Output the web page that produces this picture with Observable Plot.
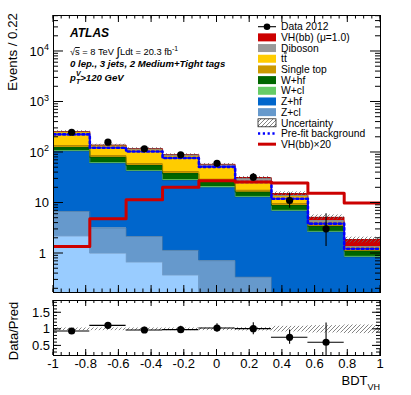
<!DOCTYPE html>
<html><head><meta charset="utf-8">
<script src="https://cdn.jsdelivr.net/npm/d3@7"></script>
<script src="https://cdn.jsdelivr.net/npm/@observablehq/plot@0.6"></script>
<style>
body{margin:0;background:#fff;}
#wrap{position:relative;width:411px;height:395px;font-family:"Liberation Sans",Arial,Helvetica,sans-serif;}
#wrap svg{position:absolute;left:0;overflow:visible;font-family:"Liberation Sans",Arial,Helvetica,sans-serif;}
</style></head><body><div id="wrap"></div>
<script>
// ---------------- data ----------------
const binLow    = [-1, -0.778, -0.556, -0.333, -0.111, 0.111, 0.333, 0.556, 0.778];
const binHigh   = [-0.778, -0.556, -0.333, -0.111, 0.111, 0.333, 0.556, 0.778, 1];
const binCenter = [-0.889, -0.667, -0.444, -0.222, 0, 0.222, 0.444, 0.667, 0.889];

// stacked backgrounds + signal (bottom to top)
const zl      = [2.2, 1.0, 0.67, 0.37, 0.12, 0.05, 0.02, 0.01, 0.005];
const zcl     = [4.6, 2.2, 1.5, 0.78, 0.6, 0.29, 0.1, 0.05, 0.02];
const zhf     = [99, 57.8, 40.5, 26.7, 19.3, 12.7, 6.8, 2.6, 0.82];
const wcl     = [3, 2, 1.5, 1.2, 0.8, 0.5, 0.3, 0.1, 0.04];
const whf     = [14, 17, 10.8, 8.7, 5.9, 2.9, 1.7, 0.68, 0.23];
const stop    = [14, 6, 5, 4, 3, 1.5, 0.8, 0.2, 0.05];
const ttbar   = [115, 49, 52, 42, 21.3, 9, 3.7, 0.5, 0.12];
const diboson = [8, 5, 7, 6, 6, 3.5, 0.6, 0.3, 0.08];
const vhbb    = [0.07, 0.24, 0.58, 1.03, 1.35, 1.35, 1.24, 0.78, 0.5];

const prefit  = [228, 124, 105, 78, 52, 26, 12.1, 3.9, 1.24];
const vhx20   = [1.38, 4.87, 11.6, 20.6, 27.5, 26, 25, 15.6, 10];

const uncLo   = [0.96, 0.96, 0.96, 0.96, 0.96, 0.95, 0.92, 0.89, 0.87];
const uncHi   = [1.04, 1.04, 1.04, 1.04, 1.04, 1.05, 1.09, 1.11, 1.13];

const dataX   = [-0.889, -0.667, -0.444, -0.222, 0, 0.222, 0.444, 0.667];
const dataY   = [252, 160, 118, 90, 61, 32.5, 11.2, 3.08];
const dataLo  = [237, 148, 107, 81, 53.5, 27, 7.9, 1.38];
const dataHi  = [268, 173, 129, 100, 69, 38.5, 15.7, 6.1];

const ratioY  = [0.95, 1.12, 0.98, 0.99, 1.04, 1.02, 0.76, 0.61];
const ratioLo = [0.89, 1.05, 0.9, 0.89, 0.91, 0.84, 0.55, 0.2];
const ratioHi = [1.01, 1.19, 1.06, 1.09, 1.17, 1.2, 0.98, 1.19];

const layerNames  = ["Z+l", "Z+cl", "Z+hf", "W+cl", "W+hf", "Single top", "tt\u0304", "Diboson", "VH(bb) (\u03bc=1.0)"];
const layerColors = ["#99ccff", "#6699cc", "#0066cc", "#66cc66", "#006600", "#cc9900", "#ffcc00", "#999999", "#cc0000"];
const layerValues = [zl, zcl, zhf, wcl, whf, stop, ttbar, diboson, vhbb];

const legendLabels = ["Data 2012", "VH(bb) (\u03bc=1.0)", "Diboson", "tt\u0304", "Single top", "W+hf", "W+cl", "Z+hf", "Z+cl", "Uncertainty", "Pre-fit background", "VH(bb)\u00d720"];
const legendKinds  = ["data", "#cc0000", "#999999", "#ffcc00", "#cc9900", "#006600", "#66cc66", "#0066cc", "#6699cc", "hatch", "dotted", "line"];

const xTickVals   = [-1, -0.8, -0.6, -0.4, -0.2, 0, 0.2, 0.4, 0.6, 0.8, 1];
const xTickLabels = ["-1", "-0.8", "-0.6", "-0.4", "-0.2", "0", "0.2", "0.4", "0.6", "0.8", "1"];
const yTickVals   = [1, 10, 100, 1000, 10000];
const yTickBase   = ["1", "10", "10", "10", "10"];
const yTickExp    = ["", "", "2", "3", "4"];
const rTickVals   = [0.5, 1, 1.5];
const rTickLabels = ["0.5", "1", "1.5"];

// ---------------- build ----------------
const idx = d3.range(binLow.length);
const didx = d3.range(dataX.length);
const cum = [idx.map(() => 1e-3)];
layerValues.forEach((vals, k) => cum.push(idx.map(i => cum[k][i] + vals[i])));
const total = cum[cum.length - 1];
const stepPts = vals => idx.map(i => ({x: binLow[i], y: vals[i]})).concat([{x: binHigh[idx.length - 1], y: vals[idx.length - 1]}]);

const W = 411;
const main = Plot.plot({
  width: W, height: 297, marginLeft: 53, marginRight: 31, marginTop: 15, marginBottom: 5,
  x: {domain: [-1, 1], axis: null},
  y: {type: "log", domain: [0.169, 51600], axis: null},
  style: {background: "transparent", overflow: "visible"},
  marks: [
    ...layerValues.map((v, k) => Plot.rect(idx, {x1: i => binLow[i], x2: i => binHigh[i], y1: i => cum[k][i], y2: i => cum[k + 1][i], fill: layerColors[k], shapeRendering: "crispEdges", clip: true})),
    ...layerValues.map((v, k) => Plot.line(stepPts(cum[k + 1]), {x: "x", y: "y", curve: "step-after", stroke: d3.color(layerColors[k]).darker(0.6).formatHex(), strokeWidth: 0.7, clip: true})),
    Plot.rect(idx, {x1: i => binLow[i], x2: i => binHigh[i], y1: i => total[i] * uncLo[i], y2: i => total[i] * uncHi[i], fill: "url(#hatchA)", clip: true}),
    Plot.line(stepPts(prefit), {x: "x", y: "y", curve: "step-after", stroke: "#0000ff", strokeWidth: 2.6, strokeDasharray: "2.2,2.6", clip: true}),
    Plot.line(stepPts(vhx20), {x: "x", y: "y", curve: "step-after", stroke: "#cc0000", strokeWidth: 3, clip: true}),
    Plot.ruleX(didx, {x: i => dataX[i], y1: i => dataLo[i], y2: i => dataHi[i], stroke: "black", strokeWidth: 1.1, clip: true}),
    Plot.dot(didx, {x: i => dataX[i], y: i => dataY[i], r: 3.6, fill: "black", stroke: "none"}),
    Plot.frame({stroke: "black", strokeWidth: 1})
  ]
});

const ratio = Plot.plot({
  width: W, height: 98, marginLeft: 53, marginRight: 31, marginTop: 3, marginBottom: 40,
  x: {domain: [-1, 1], axis: null},
  y: {domain: [0.21, 1.87], axis: null},
  style: {background: "transparent", overflow: "visible"},
  marks: [
    Plot.rect(idx, {x1: i => binLow[i], x2: i => binHigh[i], y1: i => uncLo[i], y2: i => uncHi[i], fill: "url(#hatchB)"}),
    Plot.ruleY(didx, {y: i => ratioY[i], x1: i => binLow[i], x2: i => binHigh[i], stroke: "black", strokeWidth: 1.1}),
    Plot.ruleX(didx, {x: i => dataX[i], y1: i => ratioLo[i], y2: i => ratioHi[i], stroke: "black", strokeWidth: 1.1, clip: true}),
    Plot.dot(didx, {x: i => dataX[i], y: i => ratioY[i], r: 3.6, fill: "black", stroke: "none"}),
    Plot.frame({stroke: "black", strokeWidth: 1})
  ]
});

function addHatch(svg, id) {
  const p = d3.select(svg).insert("defs", ":first-child").append("pattern")
    .attr("id", id).attr("patternUnits", "userSpaceOnUse").attr("width", 4).attr("height", 4);
  p.append("path").attr("d", "M-1,1 l2,-2 M0,4 l4,-4 M3,5 l2,-2").attr("stroke", "#666").attr("stroke-width", 0.8);
}
addHatch(main, "hatchA");
addHatch(ratio, "hatchB");

function ticks(svg, opts) {
  const xs = svg.scale("x"), ys = svg.scale("y");
  const [xL, xR] = xs.range, [yB, yT] = ys.range;
  const g = d3.select(svg).append("g").attr("stroke", "black").attr("stroke-width", 1).attr("fill", "none");
  const xt = (v, len) => {
    const px = xs.apply(v);
    g.append("line").attr("x1", px).attr("x2", px).attr("y1", yB).attr("y2", yB - len);
    g.append("line").attr("x1", px).attr("x2", px).attr("y1", yT).attr("y2", yT + len);
  };
  const yt = (v, len) => {
    const py = ys.apply(v);
    g.append("line").attr("x1", xL).attr("x2", xL + len).attr("y1", py).attr("y2", py);
    g.append("line").attr("x1", xR).attr("x2", xR - len).attr("y1", py).attr("y2", py);
  };
  opts.xMinor.forEach(v => xt(v, opts.xMinLen));
  opts.xMajor.forEach(v => xt(v, opts.xMajLen));
  opts.yMinor.forEach(v => yt(v, opts.yMinLen));
  opts.yMajor.forEach(v => yt(v, opts.yMajLen));
  return {xs, ys};
}
const xMinor = d3.range(-1, 1.0001, 0.05).map(v => +v.toFixed(2));
const yMinorLog = [];
[-1, 0, 1, 2, 3, 4].forEach(k => d3.range(2, 10).forEach(m => { const v = m * Math.pow(10, k); if (v > 0.169 && v < 51600) yMinorLog.push(v); }));
const mainS = ticks(main, {xMinor, xMajor: xTickVals, xMinLen: 3.5, xMajLen: 7, yMinor: yMinorLog, yMajor: yTickVals, yMinLen: 5, yMajLen: 10});
const rMinor = d3.range(0.3, 1.81, 0.1).map(v => +v.toFixed(1));
const ratioS = ticks(ratio, {xMinor, xMajor: xTickVals, xMinLen: 3, xMajLen: 6, yMinor: rMinor, yMajor: rTickVals, yMinLen: 4, yMajLen: 8});

// main y labels
const ms = d3.select(main);
yTickVals.forEach((v, i) => {
  const t = ms.append("text").attr("x", v === 1 ? 46 : 49).attr("y", mainS.ys.apply(v) + 4.6)
    .attr("text-anchor", "end").attr("font-size", 13).attr("fill", "black");
  t.append("tspan").text(yTickBase[i]);
  if (yTickExp[i]) t.append("tspan").attr("font-size", 9).attr("dy", -5.5).text(yTickExp[i]);
});
ms.append("text").attr("transform", "translate(16.5,13) rotate(-90)").attr("text-anchor", "end")
  .attr("font-size", 13.3).attr("fill", "black").text("Events / 0.22");

// ATLAS labels
const lt = (x, y, size) => ms.append("text").attr("x", x).attr("y", y).attr("font-size", size).attr("text-anchor", "start").attr("fill", "black");
lt(70, 37, 12).attr("font-weight", "bold").attr("font-style", "italic").text("ATLAS");
const lumi = lt(70, 55, 9.3);
lumi.append("tspan").text("\u221a");
lumi.append("tspan").attr("text-decoration", "overline").text("s");
lumi.append("tspan").text(" = 8 TeV ");
lumi.append("tspan").attr("font-size", 12.5).attr("dy", 1).text("\u222b");
lumi.append("tspan").attr("dy", -1).text("Ldt = 20.3 fb");
lumi.append("tspan").attr("font-size", 6.8).attr("dy", -4).text("-1");
lt(70, 67, 9.6).attr("font-weight", "bold").attr("font-style", "italic").text("0 lep., 3 jets, 2 Medium+Tight tags");
const pt = lt(70, 80.5, 9.6).attr("font-weight", "bold").attr("font-style", "italic");
pt.append("tspan").text("p");
pt.append("tspan").attr("font-size", 7).attr("dy", -4.5).text("V");
pt.append("tspan").attr("font-size", 7).attr("dx", -4.6).attr("dy", 7.5).text("T");
pt.append("tspan").attr("dy", -3).text(">120 GeV");

// legend
legendLabels.forEach((lab, i) => {
  const cy = 26.7 + i * 10.68;
  const k = legendKinds[i];
  const x0 = 258, x1 = 276;
  if (k === "data") {
    ms.append("line").attr("x1", x0).attr("x2", x1).attr("y1", cy).attr("y2", cy).attr("stroke", "black").attr("stroke-width", 1.1);
    ms.append("circle").attr("cx", (x0 + x1) / 2).attr("cy", cy).attr("r", 3.3).attr("fill", "black");
  } else if (k === "hatch") {
    ms.append("rect").attr("x", x0).attr("y", cy - 4).attr("width", x1 - x0).attr("height", 8).attr("fill", "url(#hatchA)").attr("stroke", "black").attr("stroke-width", 0.7);
  } else if (k === "dotted") {
    ms.append("line").attr("x1", x0).attr("x2", x1).attr("y1", cy).attr("y2", cy).attr("stroke", "#0000ff").attr("stroke-width", 2.6).attr("stroke-dasharray", "2.2,2.6");
  } else if (k === "line") {
    ms.append("line").attr("x1", x0).attr("x2", x1).attr("y1", cy).attr("y2", cy).attr("stroke", "#cc0000").attr("stroke-width", 3);
  } else {
    ms.append("rect").attr("x", x0).attr("y", cy - 4).attr("width", x1 - x0).attr("height", 8).attr("fill", k);
  }
  const t = lt(281, cy + 3.7, 10.3);
  if (lab.includes("\u0304")) {
    const base = lab.replace("\u0304", "");
    t.append("tspan").text(base.slice(0, -1));
    t.append("tspan").attr("text-decoration", "overline").text(base.slice(-1));
  } else {
    t.text(lab);
  }
});

// ratio labels
const rs = d3.select(ratio);
rTickVals.forEach((v, i) => {
  rs.append("text").attr("x", 50).attr("y", ratioS.ys.apply(v) + 4.6).attr("text-anchor", "end").attr("font-size", 13).attr("fill", "black").text(rTickLabels[i]);
});
xTickVals.forEach((v, i) => {
  rs.append("text").attr("x", ratioS.xs.apply(v)).attr("y", 71).attr("text-anchor", "middle").attr("font-size", 13).attr("fill", "black").text(xTickLabels[i]);
});
rs.append("text").attr("transform", "translate(17.5,4.7) rotate(-90)").attr("text-anchor", "end").attr("font-size", 13).attr("fill", "black").text("Data/Pred");
const bdt = rs.append("text").attr("x", 380).attr("y", 88).attr("text-anchor", "end").attr("font-size", 13).attr("fill", "black");
bdt.append("tspan").text("BDT");
bdt.append("tspan").attr("font-size", 9).attr("dy", 4.5).text("VH");

main.style.top = "0px";
ratio.style.top = "297px";
document.getElementById("wrap").append(main, ratio);
</script>
</body></html>
